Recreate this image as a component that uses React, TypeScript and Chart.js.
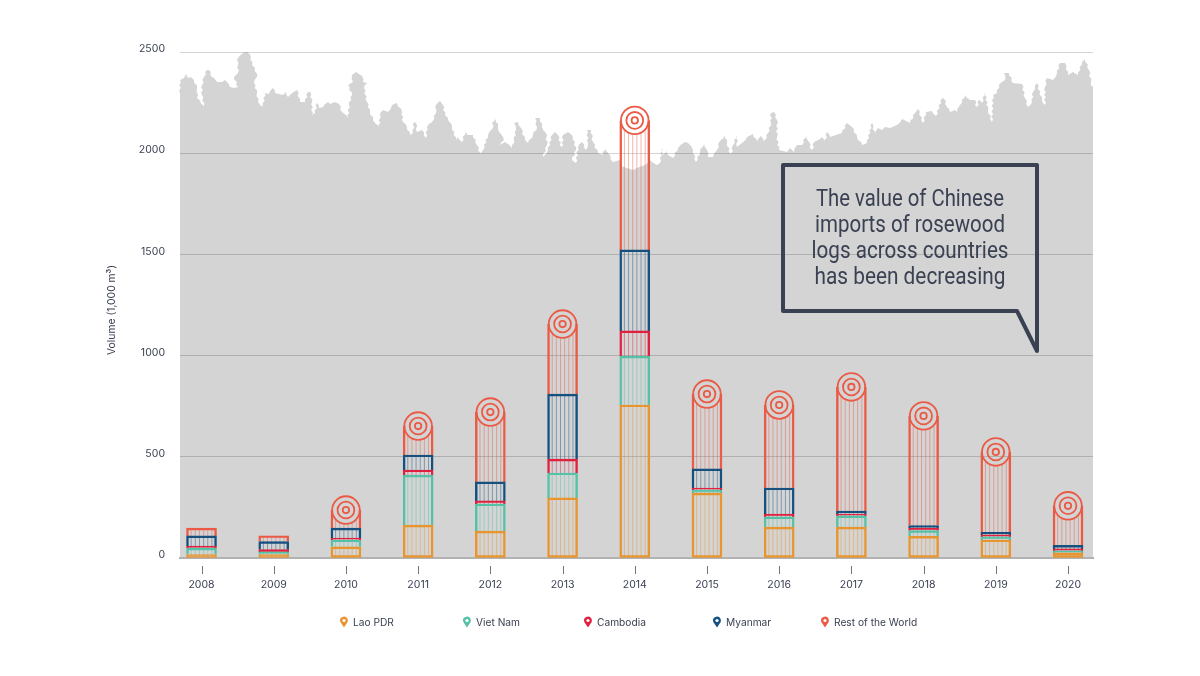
import React, { useEffect, useRef } from 'react';
import { Chart } from 'chart.js/auto';

const years = [2008, 2009, 2010, 2011, 2012, 2013, 2014, 2015, 2016, 2017, 2018, 2019, 2020];

// yearly volume per origin, 1,000 m3
const laoPdr = [17, 17, 55, 163, 133, 297, 756, 321, 153, 153, 107, 89, 25];
const vietNam = [32, 13, 34, 247, 134, 123, 242, 15, 50, 55, 28, 15, 10];
const cambodia = [10, 11, 10, 25, 15, 69, 124, 10, 14, 9, 13, 10, 10];
const myanmar = [50, 40, 49, 74, 94, 321, 400, 94, 129, 15, 12, 13, 17];
const restOfWorld = [39, 29, 89, 143, 345, 346, 640, 370, 410, 613, 542, 397, 196];

const yTicks = [0, 500, 1000, 1500, 2000, 2500];

// years where the top of the bar is drawn as a cut log
const logYears = [2010, 2011, 2012, 2013, 2014, 2015, 2016, 2017, 2018, 2019, 2020];

const seriesNames = ['Lao PDR', 'Viet Nam', 'Cambodia', 'Myanmar', 'Rest of the World'];
const seriesColors = ['#e8952f', '#55c1a6', '#e0203f', '#15507f', '#ea5a45'];
const seriesValues = [laoPdr, vietNam, cambodia, myanmar, restOfWorld];

const calloutLines = ['The value of Chinese', 'imports of rosewood', 'logs across countries', 'has been decreasing'];

const TEXT = '#3a4152';
const FONT = 'Inter';

// page pixels of the legend entries: pin centre, text start
const legendPins = [344, 467, 588, 717, 825];
const legendText = [353, 476, 597, 726, 834];
const calloutWidths = [188, 190, 197, 191];

// decoration: the tree line behind the plot, traced in canvas pixels
const treeLine = [
  180, 93, 180, 80, 184, 78, 186, 74, 188, 78, 191, 77, 194, 80, 197, 88, 198, 95, 197, 98, 204, 106, 202, 95, 202, 85,
  204, 77, 208, 67, 212, 77, 214, 78, 217, 82, 222, 82, 225, 80, 230, 87, 234, 88, 238, 87, 234, 77, 238, 73, 238, 65,
  237, 60, 243, 53, 247, 52, 251, 57, 252, 65, 255, 68, 257, 77, 254, 83, 257, 93, 258, 102, 261, 106, 263, 106,
  265, 93, 269, 94, 273, 88, 275, 93, 283, 95, 286, 92, 288, 97, 292, 93, 297, 90, 300, 102, 305, 102, 308, 92, 310, 92,
  312, 102, 312, 115, 315, 113, 317, 103, 319, 108, 323, 107, 328, 102, 330, 104, 335, 102, 339, 104, 342, 112,
  348, 118, 349, 105, 352, 95, 348, 85, 353, 82, 352, 75, 356, 72, 362, 76, 363, 82, 367, 83, 364, 88, 367, 102,
  370, 112, 375, 123, 379, 128, 380, 115, 383, 110, 388, 112, 392, 105, 397, 103, 402, 112, 403, 122, 407, 127,
  410, 135, 413, 133, 414, 122, 416, 123, 417, 132, 422, 130, 426, 138, 427, 127, 432, 122, 436, 113, 435, 107,
  440, 101, 443, 105, 445, 115, 448, 118, 452, 127, 456, 140, 458, 137, 462, 142, 465, 132, 468, 135, 473, 135,
  477, 145, 481, 156, 483, 150, 488, 135, 493, 128, 492, 123, 496, 119, 498, 127, 500, 133, 504, 140, 500, 145,
  505, 142, 512, 148, 514, 140, 516, 130, 514, 123, 518, 122, 521, 128, 525, 140, 528, 143, 533, 135, 537, 127,
  535, 118, 540, 118, 542, 127, 546, 133, 547, 145, 543, 157, 548, 150, 552, 135, 555, 132, 558, 135, 562, 150,
  563, 135, 568, 132, 573, 137, 576, 150, 572, 160, 576, 163, 578, 147, 582, 142, 586, 150, 588, 143, 587, 130,
  591, 130, 593, 142, 598, 153, 603, 155, 605, 147, 608, 153, 613, 162, 620, 160, 621, 166, 633, 170, 645, 165,
  650, 160, 657, 165, 660, 163, 662, 148, 663, 155, 667, 150, 668, 155, 673, 158, 678, 148, 685, 142, 688, 143,
  693, 150, 696, 162, 700, 152, 704, 143, 707, 150, 708, 157, 713, 157, 717, 150, 720, 141, 725, 135, 727, 143,
  731, 157, 733, 145, 737, 135, 737, 147, 742, 143, 747, 137, 753, 134, 757, 142, 761, 136, 764, 143, 768, 133,
  771, 123, 771, 113, 774, 112, 777, 120, 777, 137, 779, 150, 787, 152, 790, 148, 794, 152, 797, 145, 802, 145,
  806, 135, 809, 142, 812, 153, 814, 142, 820, 139, 822, 137, 825, 143, 827, 132, 830, 137, 842, 133, 847, 123,
  852, 127, 857, 137, 862, 145, 867, 143, 872, 123, 875, 135, 878, 128, 882, 130, 885, 127, 890, 128, 897, 125,
  902, 119, 910, 123, 915, 113, 918, 109, 923, 123, 926, 112, 932, 111, 936, 116, 943, 95, 947, 107, 950, 112,
  955, 110, 957, 112, 960, 105, 965, 95, 970, 100, 975, 100, 977, 110, 979, 97, 982, 103, 985, 92, 988, 110, 992, 122,
  993, 95, 997, 93, 999, 85, 1005, 80, 1004, 73, 1009, 73, 1013, 83, 1022, 84, 1025, 98, 1028, 107, 1032, 102,
  1033, 92, 1037, 83, 1042, 100, 1045, 105, 1045, 87, 1047, 78, 1053, 80, 1057, 73, 1060, 63, 1065, 63, 1068, 75,
  1073, 72, 1078, 75, 1082, 62, 1085, 59, 1089, 70, 1091, 82, 1093, 90,
];

const backdropPlugin = {
  id: 'backdrop',
  beforeDraw(chart: any) {
    const { ctx, chartArea } = chart;
    ctx.save();
    ctx.fillStyle = '#d4d4d4';
    ctx.beginPath();
    ctx.moveTo(chartArea.left, chartArea.bottom);
    ctx.lineTo(treeLine[0], treeLine[1]);
    // roughen the long slopes a little so they read as branches
    let flip = 1;
    for (let i = 2; i < treeLine.length; i += 2) {
      const x0 = treeLine[i - 2];
      const y0 = treeLine[i - 1];
      const x1 = treeLine[i];
      const y1 = treeLine[i + 1];
      const steps = Math.floor(Math.abs(y1 - y0) / 2.5);
      for (let k = 1; k < steps; k++) {
        flip = -flip;
        ctx.lineTo(x0 + ((x1 - x0) * k) / steps + flip * 0.9, y0 + ((y1 - y0) * k) / steps);
      }
      ctx.lineTo(x1, y1);
    }
    ctx.lineTo(chartArea.right, chartArea.bottom);
    ctx.closePath();
    ctx.fill();
    ctx.restore();
  },
};

// vertical wood grain inside every bar segment, under the outlines
const grainPlugin = {
  id: 'grain',
  beforeDatasetsDraw(chart: any) {
    const { ctx } = chart;
    ctx.save();
    ctx.lineWidth = 1;
    chart.getSortedVisibleDatasetMetas().forEach((meta: any) => {
      ctx.strokeStyle = seriesColors[meta.index];
      ctx.globalAlpha = 0.45;
      meta.data.forEach((bar: any, i: number) => {
        const isLogTop = meta.index === 4 && logYears.includes(years[i]);
        const r = bar.width / 2 - 1;
        for (let k = 1; k <= 6; k++) {
          const x = bar.x - bar.width / 2 + 0.5 + k * 4.15;
          const dx = x - bar.x;
          const top = isLogTop ? bar.y + Math.sqrt(r * r - dx * dx) : bar.y;
          ctx.beginPath();
          ctx.moveTo(x, top);
          ctx.lineTo(x, bar.base);
          ctx.stroke();
        }
      });
    });
    ctx.restore();
  },
  afterDatasetsDraw(chart: any) {
    const { ctx } = chart;
    const meta = chart.getDatasetMeta(4);
    ctx.save();
    ctx.strokeStyle = seriesColors[4];
    meta.data.forEach((bar: any, i: number) => {
      if (!logYears.includes(years[i])) return;
      [13.8, 8.4, 3.2].forEach((r) => {
        ctx.lineWidth = 1.8;
        ctx.beginPath();
        ctx.arc(bar.x, bar.y, r, 0, Math.PI * 2);
        ctx.stroke();
      });
    });
    ctx.restore();
  },
};

const annotationPlugin = {
  id: 'annotations',
  afterDraw(chart: any) {
    const { ctx, scales } = chart;
    ctx.save();

    // tick marks sit below the axis with a gap
    ctx.strokeStyle = '#6f7480';
    ctx.lineWidth = 1;
    years.forEach((year) => {
      const x = Math.round(scales.x.getPixelForValue(year)) + 0.5;
      ctx.beginPath();
      ctx.moveTo(x, 566);
      ctx.lineTo(x, 574);
      ctx.stroke();
    });

    // y axis title
    ctx.fillStyle = TEXT;
    ctx.font = `10.5px ${FONT}`;
    ctx.textAlign = 'center';
    ctx.textBaseline = 'middle';
    ctx.save();
    ctx.translate(112, 310);
    ctx.rotate(-Math.PI / 2);
    ctx.fillText('Volume (1,000 m³)', 0, 0, 90);
    ctx.restore();

    // legend with map pins
    ctx.textAlign = 'left';
    seriesNames.forEach((name, i) => {
      const cx = legendPins[i];
      ctx.fillStyle = seriesColors[i];
      ctx.beginPath();
      ctx.arc(cx, 620.5, 3.9, Math.PI * 0.85, Math.PI * 0.15);
      ctx.lineTo(cx, 627.5);
      ctx.closePath();
      ctx.fill();
      ctx.fillStyle = '#ffffff';
      ctx.beginPath();
      ctx.arc(cx, 620.5, 1.6, 0, Math.PI * 2);
      ctx.fill();
      ctx.fillStyle = TEXT;
      ctx.font = `10.2px ${FONT}`;
      ctx.fillText(name, legendText[i], 622.5);
    });

    // callout box
    ctx.strokeStyle = TEXT;
    ctx.lineWidth = 4;
    ctx.lineJoin = 'round';
    ctx.lineCap = 'round';
    ctx.beginPath();
    ctx.moveTo(783, 165);
    ctx.lineTo(1037, 165);
    ctx.lineTo(1037, 351);
    ctx.lineTo(1017, 311);
    ctx.lineTo(783, 311);
    ctx.closePath();
    ctx.stroke();

    ctx.fillStyle = TEXT;
    ctx.textAlign = 'center';
    ctx.font = '400 23px Roboto';
    calloutLines.forEach((line, i) => {
      ctx.fillText(line, 910, 200 + i * 26, calloutWidths[i]);
    });

    ctx.restore();
  },
};

function App() {
  const chartRef = useRef<HTMLCanvasElement | null>(null);

  useEffect(() => {
    if (!chartRef.current) return;
    const chart = new Chart(chartRef.current, {
      type: 'bar',
      data: {
        datasets: seriesNames.map((name, s) => ({
          label: name,
          data: years.map((year, i) => ({ x: year, y: seriesValues[s][i] })),
          backgroundColor: 'transparent',
          borderColor: seriesColors[s],
          // a segment sits on the top edge of the one below it, only the base bar closes its bottom
          borderSkipped: s === 0 ? false : 'start',
          borderWidth: (c: any) =>
            s === 4 && logYears.includes(years[c.dataIndex]) ? { top: 0, left: 1.8, right: 1.8, bottom: 0 } : 1.8,
          barThickness: 30,
        })),
      },
      options: {
        animation: false,
        responsive: false,
        events: [],
        layout: { padding: { top: 52, right: 107, left: 0, bottom: 0 } },
        plugins: {
          legend: { display: false },
          tooltip: { enabled: false },
        },
        scales: {
          x: {
            type: 'linear',
            stacked: true,
            offset: false,
            min: 2007.702,
            max: 2020.346,
            afterFit: (axis: any) => {
              axis.height = 118;
            },
            grid: { display: false },
            border: { display: true, color: '#b2b2b2', width: 2 },
            ticks: {
              stepSize: 1,
              includeBounds: false,
              autoSkip: false,
              maxRotation: 0,
              padding: 13,
              color: TEXT,
              font: { family: FONT, size: 10.5 },
              callback: (v: any) => String(v),
            },
          },
          y: {
            stacked: true,
            min: yTicks[0],
            max: yTicks[yTicks.length - 1],
            afterFit: (axis: any) => {
              axis.width = 180;
            },
            grid: { color: 'rgba(0,0,0,0.17)', lineWidth: 1, drawTicks: false },
            border: { display: false },
            ticks: {
              stepSize: 500,
              padding: 15,
              labelOffset: -3,
              color: TEXT,
              font: { family: FONT, size: 10.5 },
              callback: (v: any) => String(v),
            },
          },
        },
      },
      plugins: [backdropPlugin, grainPlugin, annotationPlugin],
    } as any);

    return () => {
      chart.destroy();
    };
  }, []);

  return (
    <canvas
      ref={chartRef}
      width={1200}
      height={676}
      style={{ position: 'fixed', left: 0, top: 0, display: 'block' }}
    />
  );
}

export default App;
